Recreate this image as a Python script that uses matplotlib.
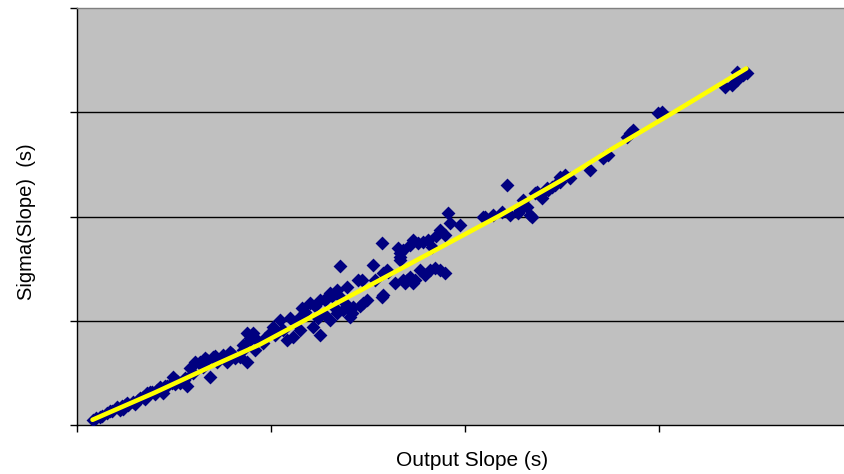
import matplotlib
matplotlib.use("Agg")
import matplotlib.pyplot as plt

plt.rcParams['font.family'] = ['Liberation Sans', 'DejaVu Sans']

# Scatter data (Output Slope vs Sigma(Slope))
slope_x = [
    0.08, 0.10, 0.12, 0.13, 0.155, 0.17, 0.18, 0.206, 0.22, 0.232, 0.237, 0.258, 0.263, 0.289, 0.30,
    0.314, 0.325, 0.34, 0.351, 0.361, 0.366, 0.387, 0.40, 0.412, 0.428, 0.438, 0.443, 0.464, 0.49,
    0.495, 0.505, 0.515, 0.531, 0.55, 0.567, 0.582, 0.60, 0.634, 0.65, 0.67, 0.686, 0.70, 0.72,
    0.753, 0.773, 0.80, 0.84, 0.856, 0.876, 0.892, 0.907, 0.918,
    0.876, 0.892, 0.928, 0.856, 0.959, 1.010, 1.046, 1.098, 1.082, 1.113, 1.149, 1.160, 1.149,
    1.201, 1.216, 1.253, 1.253, 1.289, 1.304, 1.340, 1.356, 1.356, 1.392, 1.304, 1.340, 1.371,
    1.407, 1.423, 1.448, 1.474, 1.495, 1.526, 1.536, 1.577, 1.572, 1.598, 1.665, 1.680, 1.701,
    1.732, 1.665,
    1.469, 1.572, 1.577, 1.603, 1.655, 1.665, 1.680, 1.716, 1.732, 1.768, 1.784, 1.820, 1.830,
    1.871, 1.871, 1.897, 1.912, 1.923, 1.974,
    2.093, 2.103, 2.144, 2.191, 2.216, 2.273, 2.284, 2.299, 2.320, 2.335, 2.345, 2.361, 2.371,
    2.397, 2.423, 2.448, 2.490, 2.515, 2.541, 2.644, 2.711, 2.737, 2.835, 2.851, 2.861, 2.866,
    2.995, 3.015, 3.340, 3.376, 3.402, 3.433, 3.454, 3.402,
    0.608, 0.660, 0.711, 0.789, 0.814, 0.969, 0.995, 1.021, 1.062, 1.124, 1.175, 1.227, 1.278,
    1.314, 1.242, 1.278, 1.330, 1.381, 1.418, 1.459, 1.716, 1.758, 1.809, 1.851, 1.845, 1.897,
    1.794, 1.742, 1.691, 1.639, 2.387, 2.428, 2.464, 2.490, 2.284, 2.232, 0.376, 0.454, 0.557,
    0.247,
]
sigma_y = [
    0.05, 0.07, 0.08, 0.09, 0.115, 0.13, 0.135, 0.17, 0.14, 0.18, 0.15, 0.21, 0.19, 0.22, 0.20,
    0.24, 0.26, 0.27, 0.25, 0.31, 0.29, 0.32, 0.30, 0.34, 0.36, 0.34, 0.31, 0.37, 0.40,
    0.46, 0.39, 0.42, 0.40, 0.43, 0.37, 0.55, 0.50, 0.60, 0.56, 0.62, 0.46, 0.65, 0.60,
    0.67, 0.60, 0.68, 0.65, 0.77, 0.60, 0.83, 0.88, 0.72,
    0.883, 0.815, 0.815, 0.719, 0.787, 0.940, 1.007, 1.026, 0.815, 0.844, 0.911, 1.122, 1.036,
    1.170, 0.940, 0.863, 1.199, 1.228, 1.266, 1.295, 1.525, 1.228, 1.324, 1.007, 1.074, 1.103,
    1.036, 1.132, 1.391, 1.170, 1.199, 1.535, 1.391, 1.458, 1.228, 1.487, 1.650, 1.679, 1.391,
    1.362, 1.583,
    1.391, 1.746, 1.247, 1.468, 1.698, 1.612, 1.391, 1.420, 1.775, 1.487, 1.755, 1.487, 1.707,
    1.487, 1.871, 1.823, 2.034, 1.938, 1.918,
    1.995, 1.995, 2.014, 2.043, 2.302, 2.034, 2.082, 2.158, 2.091, 2.014, 1.995, 2.225, 2.235,
    2.177, 2.273, 2.283, 2.379, 2.398, 2.369, 2.446, 2.561, 2.590, 2.763, 2.801, 2.811, 2.830,
    2.993, 3.002, 3.242, 3.261, 3.309, 3.357, 3.376, 3.386,
    0.604, 0.643, 0.662, 0.700, 0.643, 0.835, 0.883, 0.863, 0.911, 0.988, 1.084, 1.142, 1.199,
    1.237, 1.026, 1.055, 1.122, 1.170, 1.074, 1.142, 1.727, 1.746, 1.775, 1.813, 1.506, 1.458,
    1.439, 1.391, 1.362, 1.362, 2.206, 2.254, 2.302, 2.331, 2.062, 2.014, 0.317, 0.374, 0.451,
    0.192,
]

# Trend line
trend_x = [0.08, 0.40, 0.69, 0.94, 1.20, 1.46, 1.80, 2.18, 2.50, 2.75, 3.04, 3.45]
trend_y = [0.05, 0.31, 0.56, 0.77, 1.03, 1.29, 1.63, 2.01, 2.35, 2.64, 2.96, 3.42]

x_ticks = [0, 1, 2, 3, 4]
y_ticks = [0, 1, 2, 3, 4]

fig = plt.figure(figsize=(8.44, 4.74), dpi=100)
ax = fig.add_axes([77 / 844, 49 / 474, 776 / 844, 417 / 474])
ax.set_facecolor('#C0C0C0')

ax.scatter(slope_x, sigma_y, marker='D', s=50, color='#000080', linewidths=0, zorder=3)
ax.plot(trend_x, trend_y, color='#FFFF00', lw=3.3, zorder=4, solid_capstyle='round')

ax.set_xlim(0, 4)
ax.set_ylim(0, 4)
ax.set_xticks(x_ticks)
ax.set_yticks(y_ticks)
ax.set_xticklabels([])
ax.set_yticklabels([])
ax.tick_params(axis='both', direction='out', length=5, width=1, color='black')

for v in [1, 2, 3]:
    ax.axhline(v, color='black', lw=1, zorder=1)

ax.spines['left'].set_color('black')
ax.spines['bottom'].set_color('black')
ax.spines['top'].set_color('#808080')
ax.spines['right'].set_color('#808080')
for s in ax.spines.values():
    s.set_linewidth(1)

fig.text(472 / 844, 1 - 461 / 474, 'Output Slope (s)', fontsize=15, ha='center', va='center')
fig.text(27 / 844, 1 - 222 / 474, 'Sigma(Slope)  (s)', fontsize=14.5, rotation=90,
         ha='center', va='center')

fig.savefig('out.png', dpi=100)
